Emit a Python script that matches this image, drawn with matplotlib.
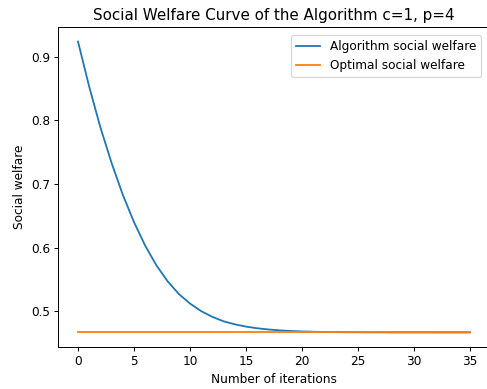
import matplotlib
matplotlib.use("Agg")
import matplotlib.pyplot as plt

# values
iterations = list(range(36))
algorithm_welfare = [0.924, 0.853, 0.789, 0.733, 0.683, 0.640, 0.603, 0.572, 0.547,
                     0.527, 0.512, 0.500, 0.491, 0.484, 0.4793, 0.4757, 0.4731,
                     0.4712, 0.4698, 0.4688, 0.4681, 0.4676, 0.4673, 0.4670, 0.46685,
                     0.4668, 0.4667, 0.4667, 0.4666, 0.4666, 0.4666, 0.4666, 0.4665,
                     0.4665, 0.4665, 0.4665]
optimal_welfare = [0.4665] * 36

dpi = 87
fig = plt.figure(figsize=(487 / dpi, 389 / dpi), dpi=dpi)
# right spine falls at the picture's edge, as in the reference
ax = fig.add_axes([58.4 / 487, 42 / 389, 431.2 / 487, 320 / 389])

ax.plot(iterations, algorithm_welfare, label="Algorithm social welfare")
ax.plot(iterations, optimal_welfare, label="Optimal social welfare")

ax.set_title("Social Welfare Curve of the Algorithm c=1, p=4", fontsize=12.5)
ax.set_xlabel("Number of iterations")
ax.set_ylabel("Social welfare")
ax.legend(loc="upper right", borderaxespad=0.7)

fig.savefig("out.png", dpi=dpi)
